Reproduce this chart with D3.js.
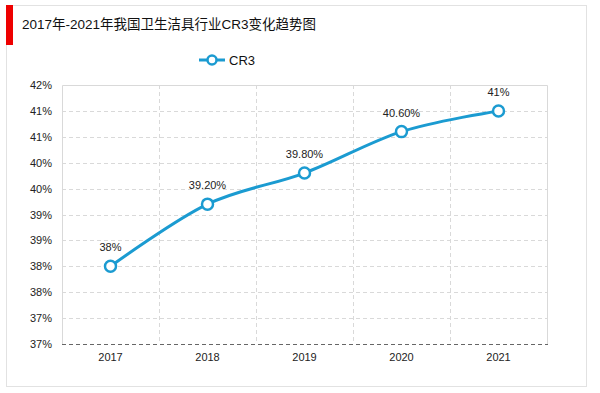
<!DOCTYPE html>
<html>
<head>
<meta charset="utf-8">
<script src="https://cdn.jsdelivr.net/npm/d3@7"></script>
<style>
  body { margin: 0; background: #fff; }
  svg { display: block; font-family: "Liberation Sans", Arial, "Noto Sans CJK SC", sans-serif; }
</style>
</head>
<body>
<svg id="chart" width="600" height="393"></svg>
<script>
const title = "2017年-2021年我国卫生洁具行业CR3变化趋势图";
const seriesName = "CR3";
const years = ["2017", "2018", "2019", "2020", "2021"];
const values = [38.0, 39.2, 39.8, 40.6, 41.0];
const valueLabels = ["38%", "39.20%", "39.80%", "40.60%", "41%"];
const yTicks = [36.5, 37, 37.5, 38, 38.5, 39, 39.5, 40, 40.5, 41, 41.5];

const svg = d3.select("#chart");
const blue = "#1b9bd1";

// outer frame + title bar
svg.append("rect")
  .attr("x", 6.5).attr("y", 5.5).attr("width", 580).attr("height", 381)
  .attr("fill", "#fff").attr("stroke", "#e2e2e2");
svg.append("rect")
  .attr("x", 6).attr("y", 5).attr("width", 7).attr("height", 40)
  .attr("fill", "#ee0000");
svg.append("text")
  .attr("x", 22).attr("y", 29)
  .attr("font-size", 13.5).attr("fill", "#111")
  .text(title);

const m = { left: 62, top: 85, right: 547, bottom: 344 };

const x = d3.scaleBand().domain(years).range([m.left, m.right]);
const y = d3.scaleLinear().domain([36.5, 41.5]).range([m.bottom, m.top]);

const g = svg.append("g");

// horizontal grid
g.selectAll("line.hgrid")
  .data(yTicks.slice(1, -1))
  .enter().append("line")
  .attr("class", "hgrid")
  .attr("x1", m.left).attr("x2", m.right)
  .attr("y1", d => Math.round(y(d)) + 0.5).attr("y2", d => Math.round(y(d)) + 0.5)
  .attr("stroke", "#d9d9d9").attr("stroke-dasharray", "4,3");

// vertical grid at category boundaries
g.selectAll("line.vgrid")
  .data(years.slice(1))
  .enter().append("line")
  .attr("class", "vgrid")
  .attr("x1", d => Math.round(x(d)) + 0.5).attr("x2", d => Math.round(x(d)) + 0.5)
  .attr("y1", m.top).attr("y2", m.bottom)
  .attr("stroke", "#d9d9d9").attr("stroke-dasharray", "4,3");

// plot border (left, top, right)
g.append("path")
  .attr("d", `M${m.left + 0.5},${m.bottom}V${m.top + 0.5}H${m.right + 0.5}V${m.bottom}`)
  .attr("fill", "none").attr("stroke", "#d9d9d9");

// y axis labels
const yAxis = d3.axisLeft(y).tickValues(yTicks).tickSize(0).tickPadding(10)
  .tickFormat(d => Math.round(d) + "%");
g.append("g")
  .attr("transform", `translate(${m.left},0)`)
  .call(yAxis)
  .call(s => s.select(".domain").remove())
  .call(s => s.selectAll("text").attr("font-size", 11).attr("fill", "#222")
    .attr("font-family", "Liberation Sans, Arial, sans-serif"));

// x axis
const xAxis = d3.axisBottom(x).tickSize(0).tickPadding(9);
g.append("g")
  .attr("transform", `translate(0,${m.bottom})`)
  .call(xAxis)
  .call(s => s.select(".domain").remove())
  .call(s => s.selectAll("text").attr("font-size", 11).attr("fill", "#222")
    .attr("font-family", "Liberation Sans, Arial, sans-serif"));
g.append("line")
  .attr("x1", m.left).attr("x2", m.right + 1)
  .attr("y1", m.bottom + 0.5).attr("y2", m.bottom + 0.5)
  .attr("stroke", "#666").attr("stroke-dasharray", "4,3");

// line
const pts = years.map((yr, i) => [x(yr) + x.bandwidth() / 2, y(values[i])]);
const line = d3.line().curve(d3.curveCatmullRom.alpha(0));
g.append("path")
  .attr("d", line(pts))
  .attr("fill", "none").attr("stroke", blue).attr("stroke-width", 3);

g.selectAll("circle.pt")
  .data(pts)
  .enter().append("circle")
  .attr("class", "pt")
  .attr("cx", d => d[0]).attr("cy", d => d[1]).attr("r", 5.5)
  .attr("fill", "#fff").attr("stroke", blue).attr("stroke-width", 2.5);

g.selectAll("text.lbl")
  .data(pts)
  .enter().append("text")
  .attr("class", "lbl")
  .attr("x", d => d[0]).attr("y", d => d[1] - 15)
  .attr("text-anchor", "middle")
  .attr("font-size", 11).attr("fill", "#222")
  .text((d, i) => valueLabels[i]);

// legend
const lg = svg.append("g").attr("transform", "translate(199,60)");
lg.append("line").attr("x1", 0).attr("x2", 26).attr("y1", 0).attr("y2", 0)
  .attr("stroke", blue).attr("stroke-width", 3);
lg.append("circle").attr("cx", 13).attr("cy", 0).attr("r", 4.5)
  .attr("fill", "#fff").attr("stroke", blue).attr("stroke-width", 2.5);
lg.append("text").attr("x", 30).attr("y", 5)
  .attr("font-size", 13).attr("fill", "#111").text(seriesName);
</script>
</body>
</html>
